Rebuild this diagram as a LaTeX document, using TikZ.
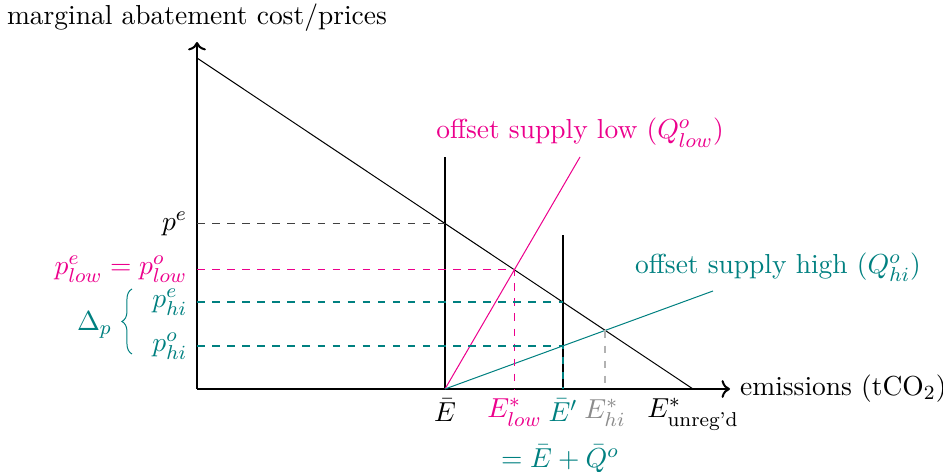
\documentclass[tikz,border=0pt,11pt]{standalone}
\usepackage{amsmath,amssymb}
\usepackage{tikz}
\usetikzlibrary{arrows.meta,positioning,calc,decorations.pathreplacing}
\definecolor{lowcol}{RGB}{236,0,140}
\definecolor{hicol}{RGB}{0,128,128}

\begin{document}
\begin{tikzpicture}[x=0.7cm,y=0.7cm]
  \useasboundingbox (-3.94,-1.66) rectangle (14.92,7.78);
  % 軸
  \draw[thick,->] (0,0) -- (0,6.94) node[above]{marginal abatement cost/prices};
  \draw[thick,->] (0,0) -- (10.66,0) node[right]{emissions (tCO$_2$)};
  % 限界削減費用
  \coordinate (mA) at (0,6.62); \coordinate (mB) at (9.92,0);
  \draw (mA) -- (mB);
  \node[below] at (mB){$E^*_{\text{unreg'd}}$};
  % キャップ
  \coordinate (cap) at (4.96,0); \coordinate (capp) at (7.32,0);
  \draw (cap) -- (4.96,4.64);
  \draw (capp) -- (7.32,3.08);
  \node[below] at (cap){$\bar{E}$};
  \node[below,inner xsep=0pt,text=hicol] (Ep) at (capp){$\bar{E}'$};
  \node[anchor=north,inner sep=1pt,text=hicol] at (7.26,-1.05){$=\bar{E}+\bar{Q}^o$};
  % オフセット供給曲線
  \draw[lowcol] (cap) -- (7.66,4.64) node[above]{offset supply low ($Q^o_{low}$)};
  \draw[hicol] (cap) -- (10.32,1.96);
  \node[text=hicol] at (11.62,2.44){offset supply high ($Q^o_{hi}$)};
  % 価格
  \tikzset{pline/.style={dashed,line width=0.6pt}}
  \draw[pline,black!75] (0,3.31) node[left,text=black]{$p^e$} -- (4.96,3.31);
  \draw[pline,lowcol] (0,2.39) node[left]{$p^e_{low}=p^o_{low}$} -- (6.35,2.39) -- (6.35,0);
  \node[below,inner xsep=0pt,text=lowcol] at (6.35,0){$E^*_{low}$};
  \draw[pline,hicol] (0,1.74) node[left]{$p^e_{hi}$} -- (7.32,1.74);
  \draw[pline,hicol] (0,0.86) node[left]{$p^o_{hi}$} -- (7.32,0.86) -- (capp);
  \draw[pline,black!30] (8.16,1.17) -- (8.16,0) node[below,inner xsep=0pt,text=black!45]{$E^*_{hi}$};
  % Δp
  \draw[hicol,decorate,decoration={brace,amplitude=4pt}] (-1.3,0.7) -- (-1.3,2.0);
  \node[text=hicol] at (-2.05,1.28){$\Delta_p$};
\end{tikzpicture}
\end{document}
